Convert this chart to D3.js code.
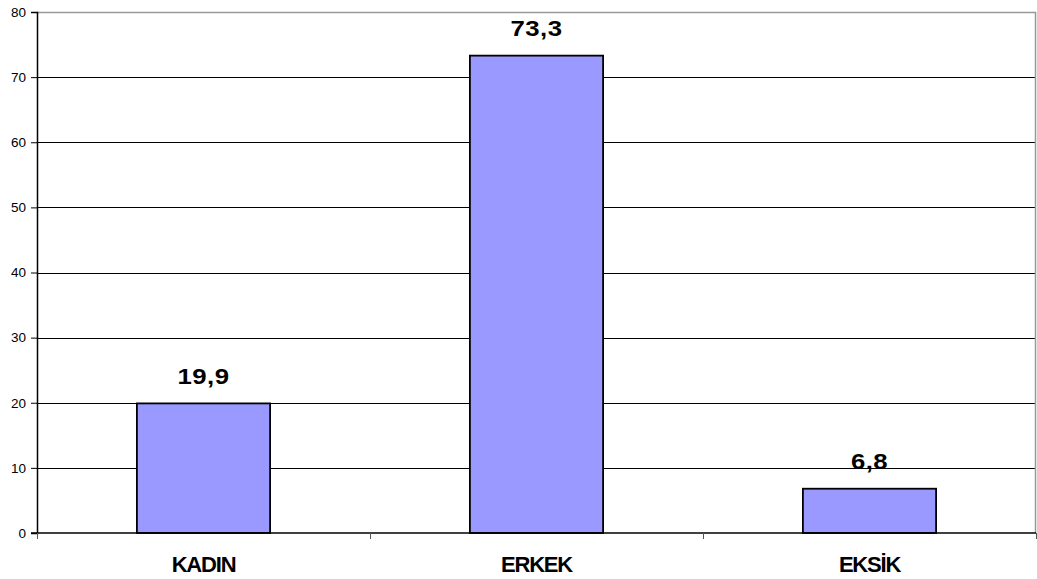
<!DOCTYPE html>
<html>
<head>
<meta charset="utf-8">
<script src="https://cdn.jsdelivr.net/npm/d3@7"></script>
<style>
  html, body { margin: 0; padding: 0; background: #fff; }
  svg { display: block; font-family: "Liberation Sans", Arial, sans-serif; }
</style>
</head>
<body>
<svg id="chart" width="1037" height="579"></svg>
<script>
// Categories and their percentages
const categories = ["KADIN", "ERKEK", "EKSİK"];
const values = [19.9, 73.3, 6.8];
const valueLabels = ["19,9", "73,3", "6,8"];
const yTicks = [0, 10, 20, 30, 40, 50, 60, 70, 80];

const svg = d3.select("#chart");
const margin = { left: 37, right: 1, top: 12, bottom: 46 };
const W = 1037, H = 579;

const x = d3.scaleBand()
  .domain(categories)
  .range([margin.left, W - margin.right])
  .paddingInner(0.6)
  .paddingOuter(0.3);

// Band layout for category separators (full-width bands)
const xFull = d3.scaleBand()
  .domain(categories)
  .range([margin.left, W - margin.right]);

const y = d3.scaleLinear()
  .domain([0, 80])
  .range([H - margin.bottom, margin.top]);

// Horizontal gridlines
svg.append("g")
  .selectAll("line")
  .data(yTicks.filter(d => d > 0 && d < 80))
  .join("line")
  .attr("x1", margin.left)
  .attr("x2", W - margin.right)
  .attr("y1", d => Math.round(y(d)) + 0.5)
  .attr("y2", d => Math.round(y(d)) + 0.5)
  .attr("stroke", "#000")
  .attr("stroke-width", 1);

// Plot area top and right border
svg.append("path")
  .attr("d", `M${margin.left},${Math.round(y(80)) + 0.5}H${W - margin.right - 0.5}V${y(0)}`)
  .attr("fill", "none")
  .attr("stroke", "#999")
  .attr("stroke-width", 1.5);

// Bars
svg.append("g")
  .selectAll("rect")
  .data(categories)
  .join("rect")
  .attr("x", d => x(d))
  .attr("width", x.bandwidth())
  .attr("y", (d, i) => y(values[i]))
  .attr("height", (d, i) => y(0) - y(values[i]))
  .attr("fill", "#9999FF")
  .attr("stroke", "#000")
  .attr("stroke-width", 1.8);

// Value labels (slightly widened glyphs)
svg.append("g")
  .selectAll("text")
  .data(categories)
  .join("text")
  .attr("transform", (d, i) =>
    `translate(${x(d) + x.bandwidth() / 2},${y(values[i]) - 19.5}) scale(1.12,1)`)
  .attr("text-anchor", "middle")
  .attr("font-size", 23)
  .attr("font-weight", "bold")
  .attr("letter-spacing", 0.4)
  .text((d, i) => valueLabels[i]);

// Y axis
const yAxis = d3.axisLeft(y).tickValues(yTicks).tickSize(6).tickPadding(5);
const gy = svg.append("g")
  .attr("transform", `translate(${margin.left},0)`)
  .call(yAxis);
gy.select(".domain").attr("stroke", "#000").attr("stroke-width", 1.5);
gy.selectAll(".tick line").attr("stroke", "#000");
gy.selectAll(".tick text")
  .attr("font-size", 13.5)
  .attr("font-family", "Liberation Sans, Arial, sans-serif")
  .attr("fill", "#000");

// X axis baseline
svg.append("line")
  .attr("x1", margin.left - 6)
  .attr("x2", W - margin.right)
  .attr("y1", y(0))
  .attr("y2", y(0))
  .attr("stroke", "#000")
  .attr("stroke-width", 1.5);

// Category separator ticks
const sepX = categories.map(c => xFull(c)).concat([W - margin.right]);
svg.append("g")
  .selectAll("line")
  .data(sepX)
  .join("line")
  .attr("x1", d => Math.round(d) + 0.5)
  .attr("x2", d => Math.round(d) + 0.5)
  .attr("y1", y(0))
  .attr("y2", y(0) + 6)
  .attr("stroke", "#555")
  .attr("stroke-width", 1);

// Category labels
svg.append("g")
  .selectAll("text")
  .data(categories)
  .join("text")
  .attr("x", d => xFull(d) + xFull.bandwidth() / 2)
  .attr("y", 572)
  .attr("text-anchor", "middle")
  .attr("font-size", 22)
  .attr("font-weight", "bold")
  .attr("letter-spacing", -1.2)
  .text(d => d);
</script>
</body>
</html>
